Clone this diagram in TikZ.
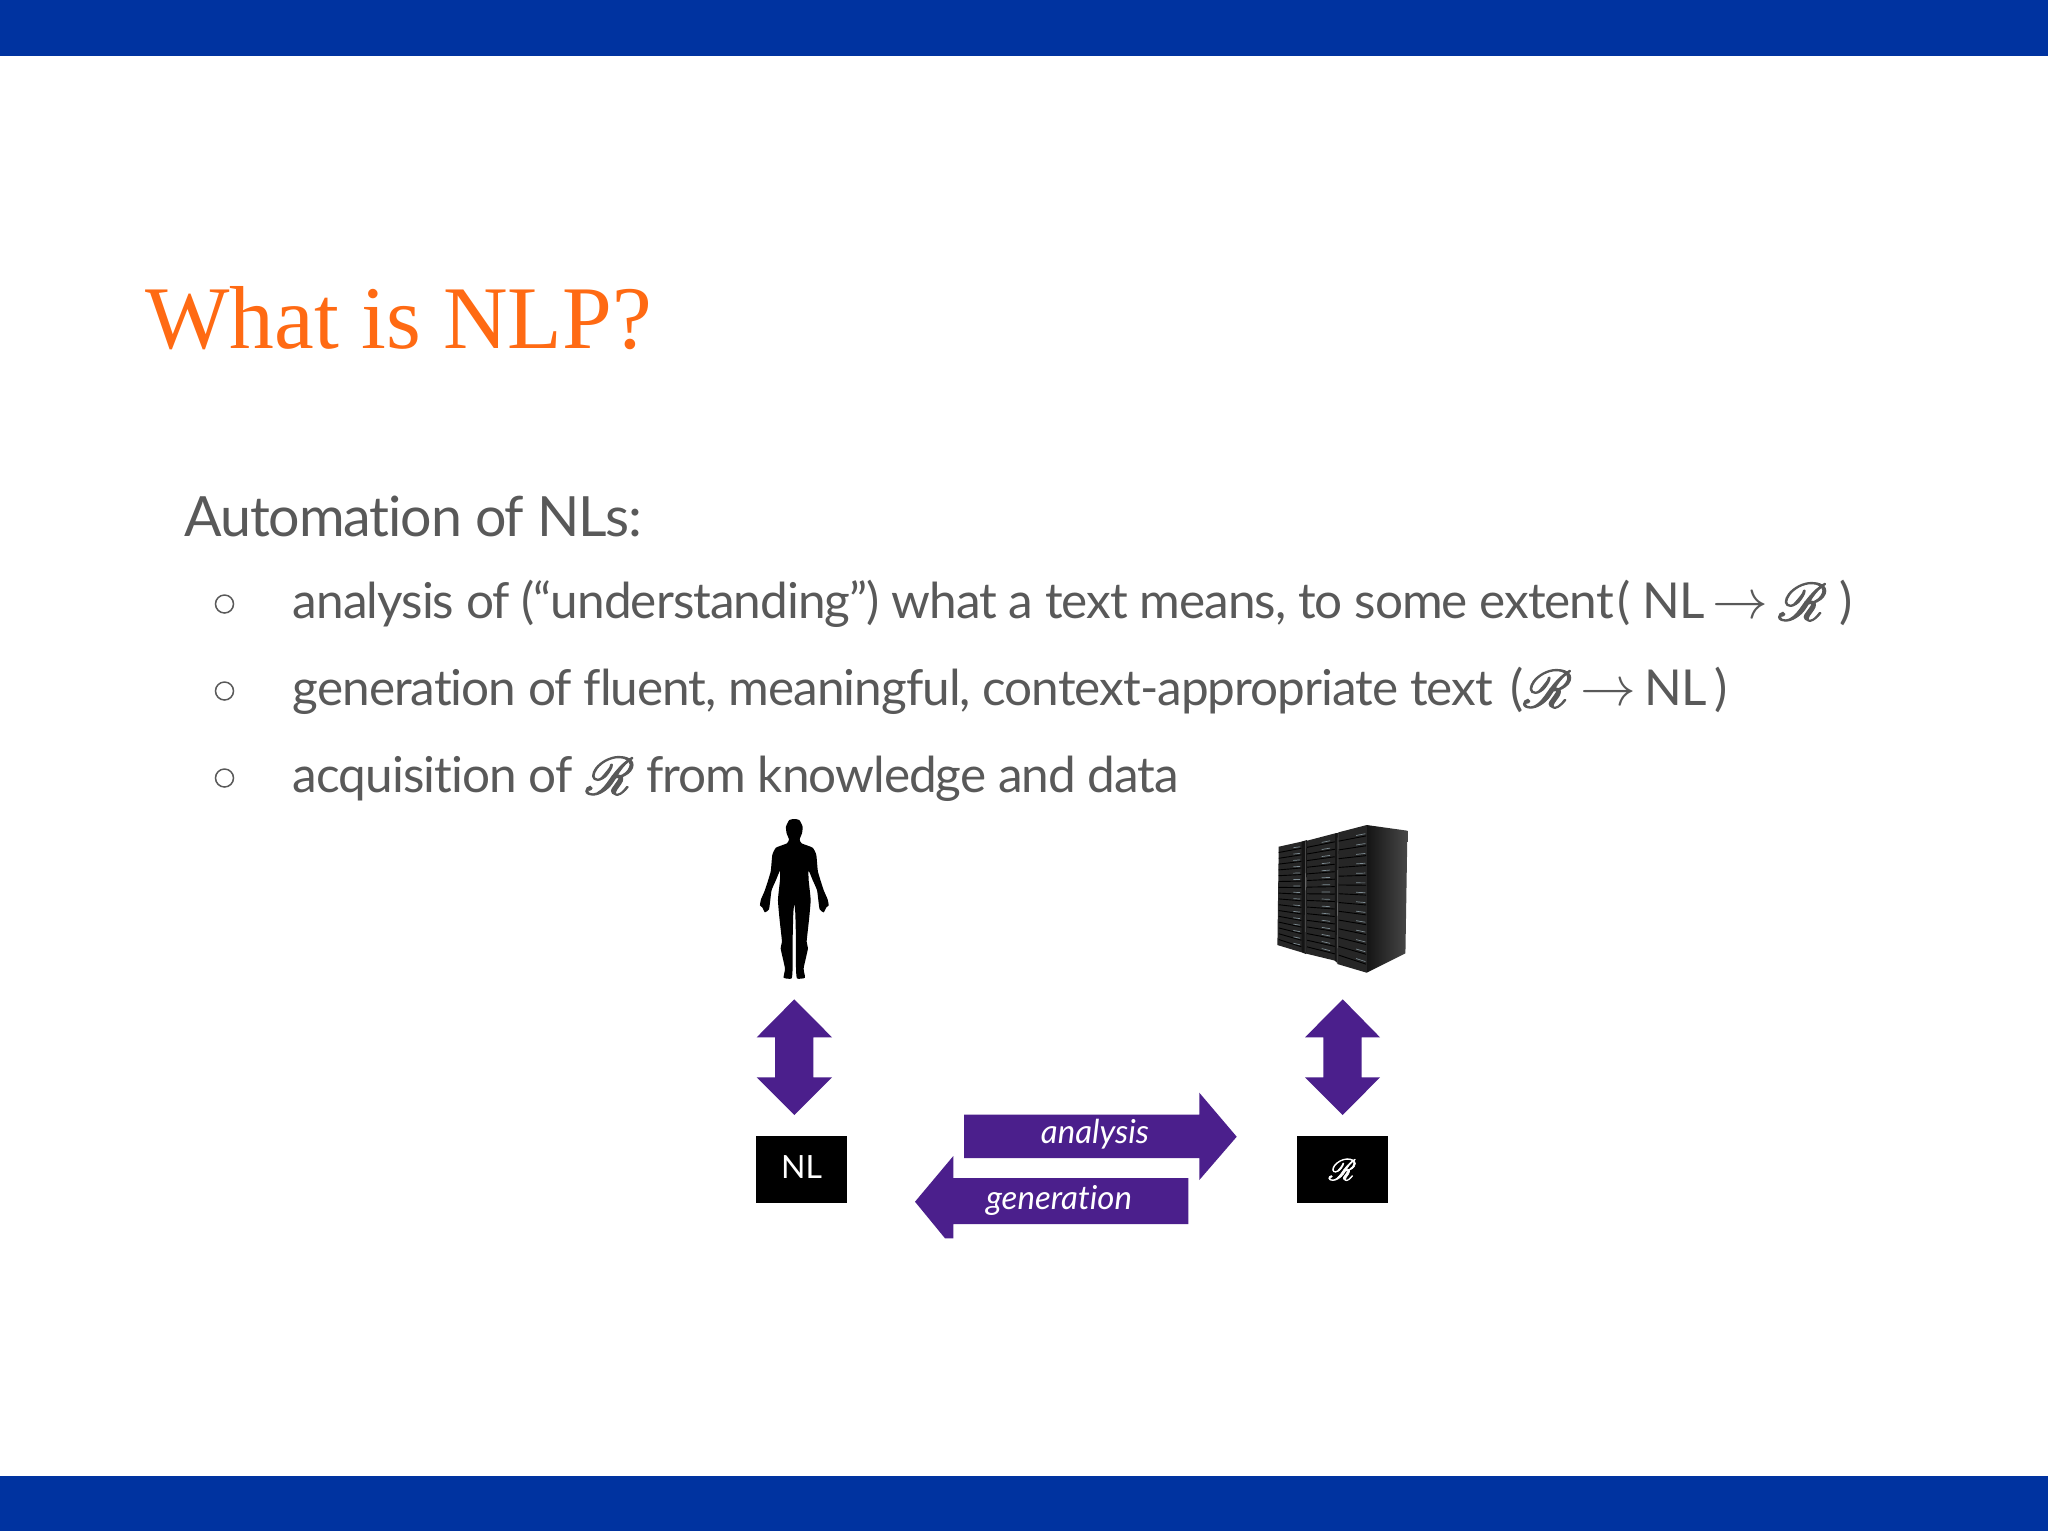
\documentclass[tikz,border=0pt]{standalone}
\usepackage{graphicx}
\usepackage{fontspec}
\usepackage{mathrsfs}
\setmainfont{Lato}[Ligatures=NoCommon]
\newfontfamily\tightfont{Lato}[LetterSpace=-2,Ligatures=NoCommon]
\newfontfamily\titlefont{Liberation Serif}
\newcommand{\scrRat}[1]{\raisebox{-0.04em}{\scalebox{#1}{\fontsize{10}{12}\selectfont\special{pdf:code 2 Tr 0.22 w}$\mathscr{R}$\special{pdf:code 0 Tr}}}}
\newcommand{\thinarrow}{\scalebox{1.12}{$\rightarrow$}}
\definecolor{bandblue}{HTML}{0033A0}
\definecolor{titleorange}{HTML}{FF6A13}
\definecolor{bodygrey}{HTML}{595959}
\definecolor{arrowpurple}{HTML}{4B1F8C}
\tikzset{
  band/.style={fill=bandblue,draw=none},
  heading/.style={anchor=base west,inner sep=0pt,text=bodygrey,font=\tightfont\fontsize{27.75}{32}\selectfont},
  bodytext/.style={anchor=base west,inner sep=0pt,text=bodygrey,font=\tightfont\fontsize{24.75}{30}\selectfont},
  bulletmark/.style={circle,draw=bodygrey,line width=0.75pt,minimum size=9pt,inner sep=0pt},
  titletext/.style={anchor=base west,inner sep=0pt,text=titleorange,font=\titlefont\fontsize{44.7}{54}\selectfont},
  blockarrow/.style={fill=arrowpurple,draw=none},
  blackbox/.style={fill=black,text=white,inner sep=0pt,minimum width=45.8pt,minimum height=33.6pt,font=\fontsize{16}{20}\selectfont},
  arrowlabel/.style={inner sep=0pt,text=white,font=\itshape\fontsize{16.5}{20}\selectfont},
  rack/.style={fill=black!85},
  slot/.style={draw=black,line width=0.45pt},
  rackedge/.style={draw=black!60,line width=0.3pt},
  led/.style={draw=cyan!25!black!65,line width=0.35pt},
}
\begin{document}
\begin{tikzpicture}[x=0.5pt,y=-0.5pt]
\useasboundingbox (0,0) rectangle (2048,1533);
\fill[white] (0,0) rectangle (2048,1533);
\fill[band] (0,0) rectangle (2048,56);
\fill[band] (0,1476) rectangle (2048,1531);

\node[titletext] (title) at (145,348) {What is NLP?};
\node[heading] (head) at (184,536) {Automation of NLs:};

\node[bulletmark] (b1) at (224.5,604) {};
\node[bulletmark] (b2) at (224.5,691) {};
\node[bulletmark] (b3) at (224.5,778) {};
\node[bodytext] (l1) at (292.5,618.5) {analysis of (“understanding”) what a text means, to some extent\hspace{2pt}( NL\,\thinarrow\hspace{5pt}\scrRat{2.65}\hspace{6pt})};
\node[bodytext] (l2) at (292.5,705.5) {generation of fluent, meaningful, context-appropriate text\hspace{3pt} (\scrRat{2.65}\,\thinarrow\,NL\,)};
\node[bodytext] (l3) at (292.5,792.5) {acquisition of \hspace{1pt}\scrRat{2.65} from knowledge and data};

% person
\begin{scope}[shift={(794.3,800)},x=0.1667pt,y=-0.1667pt]
\fill[black] plot[smooth cycle,tension=0.3] coordinates {
(0,57) (15,60) (25,80) (23,100) (16,118) (22,130) (55,143) (66,165) (71,215) (88,270) (100,298) (103,316) (96,322) (88,337) (76,328) (72,300) (68,270) (55,240) (43,212) (43,240) (49,300) (44,360) (37,425) (41,445) (28,505) (32,533) (8,535) (5,500) (5,420) (3,340) (0,312)
(-3,340) (-5,420) (-5,500) (-8,535) (-32,533) (-28,505) (-41,445) (-37,425) (-44,360) (-49,300) (-43,240) (-43,212) (-55,240) (-68,270) (-72,300) (-76,328) (-88,337) (-96,322) (-103,316) (-100,298) (-88,270) (-71,215) (-66,165) (-55,143) (-22,130) (-16,118) (-23,100) (-25,80) (-15,60)};
\end{scope}

% racks
\begin{scope}[shift={(1060,800)},x=0.1667pt,y=-0.1667pt]
\fill[rack] (656,140) -- (737,122) -- (725,457) -- (652,435) -- cycle;
\fill[rack] (741,122) -- (825,100) -- (835,105) -- (830,483) -- (735,460) -- cycle;
\fill[black!92] (725,125) -- (741,120) -- (738,462) -- (725,457) -- cycle;
\fill[black!92] (825,100) -- (838,98) -- (834,490) -- (824,482) -- cycle;
\shade[left color=black!92,right color=black!72] (920,75) -- (1042,92) -- (1036,460) -- (920,518) -- cycle;
\fill[rack] (835,97) -- (920,75) -- (920,518) -- (832,492) -- cycle;
\draw[rackedge] (737,124) -- (735,458);
\draw[rackedge] (834,100) -- (831,490);
\foreach \i in {1,...,16}{
  \pgfmathsetmacro{\ya}{140+\i*17.4}\pgfmathsetmacro{\yb}{125+\i*19.7}
  \draw[slot] (656,\ya) -- (724,\yb);
  \draw[led] (700,{\ya+0.74*(\yb-\ya)-5}) -- (720,{\ya+0.95*(\yb-\ya)-5});
  \pgfmathsetmacro{\yc}{122+\i*19.9}\pgfmathsetmacro{\yd}{103+\i*22.4}
  \draw[slot] (741,\yc) -- (824,\yd);
  \draw[led] (785,{\yc+0.53*(\yd-\yc)-6}) -- (810,{\yc+0.83*(\yd-\yc)-6});
}
\foreach \i in {1,...,14}{
  \pgfmathsetmacro{\ye}{97+\i*26.3}\pgfmathsetmacro{\yf}{78+\i*29.6}
  \draw[slot] (836,\ye) -- (918,\yf);
  \draw[led] (888,{\ye+0.63*(\yf-\ye)-7}) -- (916,{\ye+0.97*(\yf-\ye)-7});
}
\end{scope}

% double arrows
\fill[blockarrow] (794.3,999.3) -- (832,1037.3) -- (813.3,1037.3) -- (813.3,1077.3) -- (832,1077.3) -- (794.3,1115) -- (756.7,1077.3) -- (775,1077.3) -- (775,1037.3) -- (756.7,1037.3) -- cycle;
\fill[blockarrow] (1342.7,999.3) -- (1380,1037.3) -- (1361.7,1037.3) -- (1361.7,1077.3) -- (1380,1077.3) -- (1342.7,1115) -- (1305,1077.3) -- (1323.3,1077.3) -- (1323.3,1037.3) -- (1305,1037.3) -- cycle;

% process arrows
\fill[blockarrow] (964,1114.7) -- (1199.3,1114.7) -- (1199.3,1092.7) -- (1236.7,1136.7) -- (1199.3,1180) -- (1199.3,1158) -- (964,1158) -- cycle;
\fill[blockarrow] (1188.3,1178) -- (953.3,1178) -- (953.3,1156) -- (915,1201.7) -- (945,1238.3) -- (953.3,1238.3) -- (953.3,1224) -- (1188.3,1224) -- cycle;
\node[arrowlabel] (ana) at (1095,1134) {analysis};
\node[arrowlabel] (gen) at (1059,1200) {generation};

\node[blackbox] (nl) at (801.5,1169.7) {\raisebox{3pt}{NL}};
\node[blackbox] (r) at (1342.5,1169.7) {\raisebox{-1pt}{\scrRat{1.5}}};
\end{tikzpicture}
\end{document}
